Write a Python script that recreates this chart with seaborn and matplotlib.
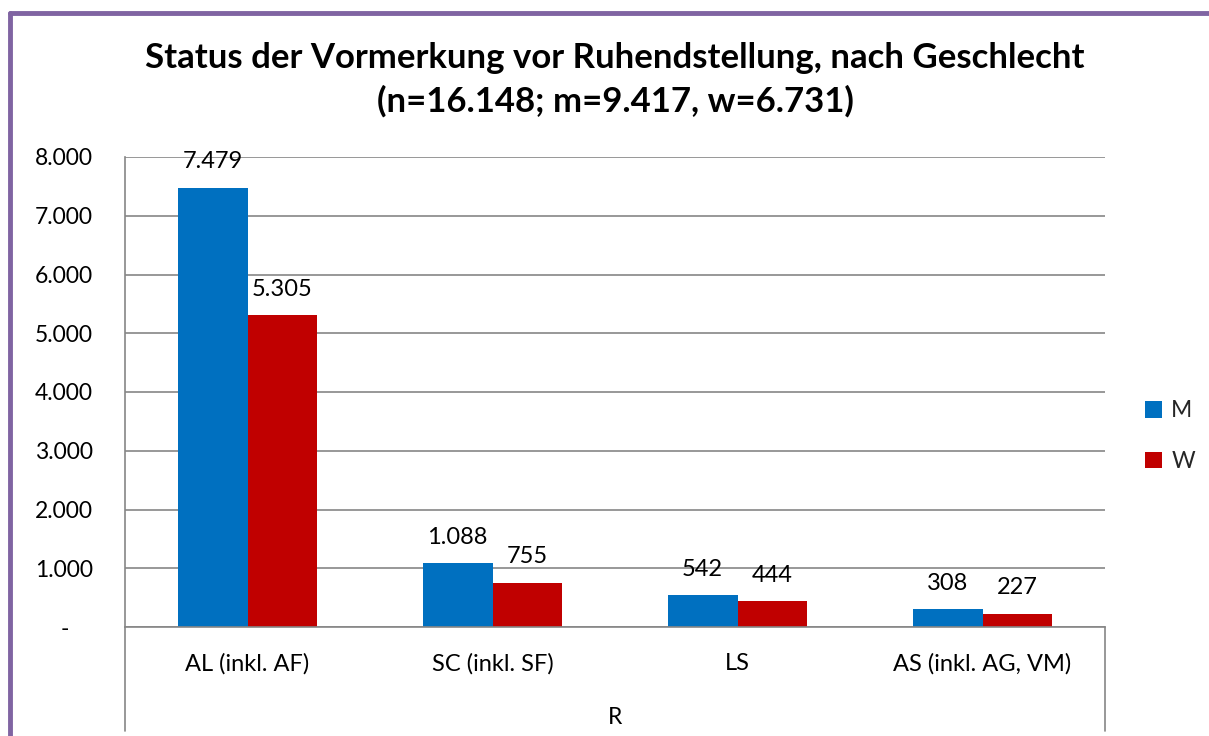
import matplotlib
matplotlib.use("Agg")
import matplotlib.pyplot as plt
from matplotlib.lines import Line2D
from matplotlib.ticker import FuncFormatter
import seaborn as sns
import pandas as pd

categories = ["AL (inkl. AF)", "SC (inkl. SF)", "LS", "AS (inkl. AG, VM)"]
m_values = [7479, 1088, 542, 308]
w_values = [5305, 755, 444, 227]
series = ["M", "W"]
colors = ["#0070C0", "#C00000"]
title = "Status der Vormerkung vor Ruhendstellung, nach Geschlecht\n(n=16.148; m=9.417, w=6.731)"
axis_label = "R"

df = pd.DataFrame({
    "Kategorie": categories * 2,
    "Geschlecht": ["M"] * len(categories) + ["W"] * len(categories),
    "Anzahl": m_values + w_values,
})

sns.set_theme(style="white")
plt.rcParams["font.family"] = ["Lato", "DejaVu Sans"]

W, H = 1209, 736
FS = 16.5
fig = plt.figure(figsize=(W / 100, H / 100), dpi=100)
ax = fig.add_axes([125 / W, 1 - 627 / H, 980 / W, 470 / H])

sns.barplot(data=df, x="Kategorie", y="Anzahl", hue="Geschlecht",
            palette=colors, saturation=1, width=0.571, ax=ax, linewidth=0)

ax.set_ylim(0, 8000)
ax.set_xlim(-0.5, len(categories) - 0.5)
ax.set_yticks(range(0, 8001, 1000))

def fmt(v, pos=None):
    if v == 0:
        return "-    "
    return f"{int(v):,}".replace(",", ".")

ax.yaxis.set_major_formatter(FuncFormatter(fmt))
ax.yaxis.grid(True, color="#868686", linewidth=1.2)
ax.set_axisbelow(True)
for s in ["top", "right"]:
    ax.spines[s].set_visible(False)
for s in ["left", "bottom"]:
    ax.spines[s].set_color("#868686")
    ax.spines[s].set_linewidth(1.2)
ax.tick_params(axis="y", length=0, pad=23, labelsize=FS, labelcolor="black")
ax.tick_params(axis="x", length=0, pad=19, labelsize=FS + 0.5, labelcolor="black")
ax.set_ylabel("")
ax.set_xlabel(axis_label, fontsize=FS, labelpad=23, color="black")

for cont in ax.containers:
    ax.bar_label(cont, labels=[fmt(v) for v in cont.datavalues], padding=11,
                 fontsize=FS + 0.5, color="black")

leg = fig.legend(*ax.get_legend_handles_labels(), loc="center left",
                 bbox_to_anchor=(1145 / W, 1 - 436 / H), bbox_transform=fig.transFigure,
                 frameon=False, fontsize=FS, handlelength=0.75, handleheight=0.75,
                 handletextpad=0.4, labelspacing=1.3, borderpad=0, borderaxespad=0)
ax.get_legend().remove()
for h in leg.legend_handles:
    h.set_linewidth(0)

# extended axis frame lines below the plot (multi-level category axis)
for x in (125, 1105):
    fig.add_artist(Line2D([x / W, x / W], [1 - 627 / H, 1 - 731 / H],
                          transform=fig.transFigure, color="#868686", linewidth=1.2))

# purple chart border
fig.add_artist(Line2D([10 / W, 10 / W], [1 - 13 / H, 0], transform=fig.transFigure,
                      color="#8064A2", linewidth=3.5))
fig.add_artist(Line2D([10 / W, 1], [1 - 13 / H, 1 - 13 / H], transform=fig.transFigure,
                      color="#8064A2", linewidth=3.5))

fig.text(615 / W, 1 - 80 / H, title, ha="center", va="center", fontsize=25,
         fontweight="bold", linespacing=1.4, color="black")

fig.savefig("out.png", dpi=100)
